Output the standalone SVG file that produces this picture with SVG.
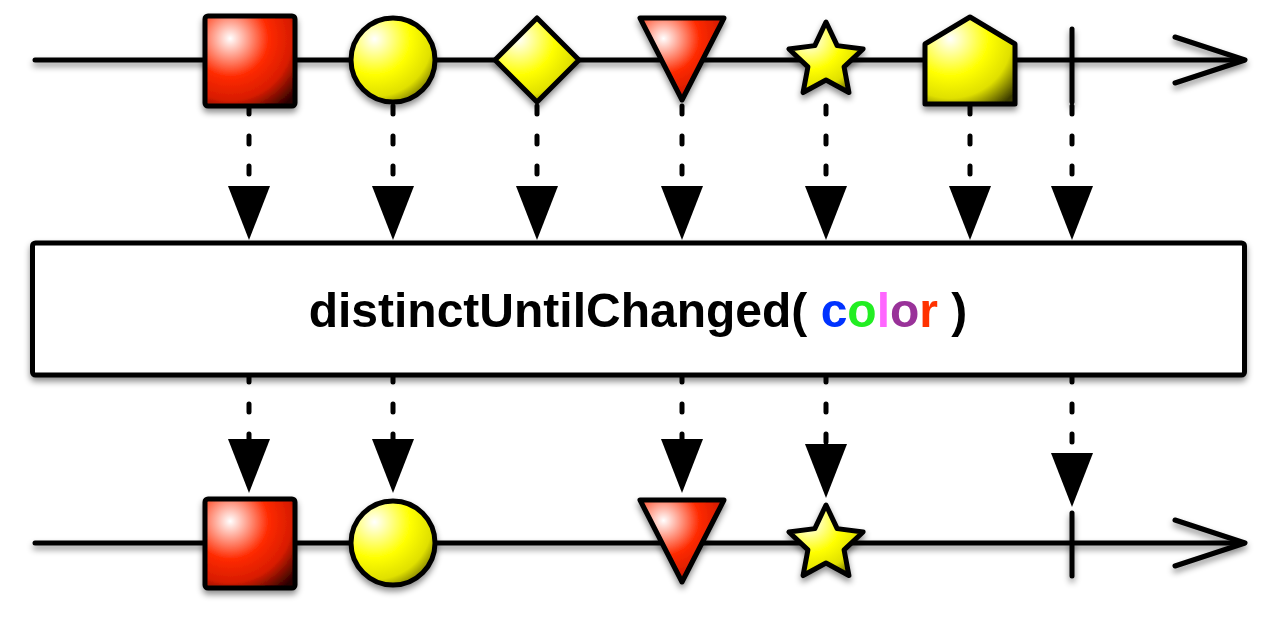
<svg xmlns="http://www.w3.org/2000/svg" xmlns:xlink="http://www.w3.org/1999/xlink" width="1280" height="620" viewBox="0 0 1280 620">
  <defs>
    <filter id="sh" filterUnits="userSpaceOnUse" x="0" y="0" width="1280" height="620">
      <feDropShadow dx="0" dy="4" stdDeviation="3" flood-color="#000" flood-opacity="0.45"/>
    </filter>
    <radialGradient id="gRed" cx="0.28" cy="0.25" r="0.95" fx="0.28" fy="0.25">
      <stop offset="0" stop-color="#ffffff"/>
      <stop offset="0.45" stop-color="#ff2a00"/>
      <stop offset="0.72" stop-color="#d81c00"/>
      <stop offset="1" stop-color="#2a0000"/>
    </radialGradient>
    <radialGradient id="gYel" cx="0.28" cy="0.25" r="0.95" fx="0.28" fy="0.25">
      <stop offset="0" stop-color="#ffffff"/>
      <stop offset="0.45" stop-color="#ffff00"/>
      <stop offset="0.72" stop-color="#e0e000"/>
      <stop offset="1" stop-color="#3a3a00"/>
    </radialGradient>
    <path id="star" d="M0,-39 L11.17,-15.37 L37.09,-12.05 L18.07,5.87 L22.92,31.55 L0,19 L-22.92,31.55 L-18.07,5.87 L-37.09,-12.05 L-11.17,-15.37 Z"/>
    <path id="ah" d="M-21,0 L21,0 L0,54 Z"/>
  </defs>
  <style>
    .tl { stroke:#000; stroke-width:5; fill:none; stroke-linecap:round; stroke-linejoin:round; }
    .shape { stroke:#000; stroke-width:5; stroke-linejoin:round; }
    .red { fill:url(#gRed); }
    .yel { fill:url(#gYel); }
    .dash { stroke:#000; stroke-width:5; stroke-linecap:round; stroke-dasharray:8 22; fill:none; }
    .head { fill:#000; }
    .op { fill:#fff; stroke:#000; stroke-width:5; }
    .lbl { font-family:"Liberation Sans", Arial, Helvetica, sans-serif; font-weight:bold; font-size:48px; fill:#000; }
  </style>
  <rect width="1280" height="620" fill="#fff"/>

  <g id="timeline-top" filter="url(#sh)">
    <line class="tl" x1="35" y1="60" x2="1243" y2="60"/>
    <polyline class="tl" points="1175,37 1245,60 1175,83"/>
  </g>
  <g id="timeline-bottom" filter="url(#sh)">
    <line class="tl" x1="35" y1="543" x2="1243" y2="543"/>
    <polyline class="tl" points="1175,520 1245,543 1175,566"/>
  </g>

  <g id="connectors">
    <line class="dash" x1="249" y1="106" x2="249" y2="186"/>
    <line class="dash" x1="393" y1="106" x2="393" y2="186"/>
    <line class="dash" x1="537" y1="106" x2="537" y2="186"/>
    <line class="dash" x1="682" y1="106" x2="682" y2="186"/>
    <line class="dash" x1="826" y1="106" x2="826" y2="186"/>
    <line class="dash" x1="970" y1="106" x2="970" y2="186"/>
    <line class="dash" x1="1072" y1="106" x2="1072" y2="186"/>
    <use xlink:href="#ah" class="head" transform="translate(249,186)"/>
    <use xlink:href="#ah" class="head" transform="translate(393,186)"/>
    <use xlink:href="#ah" class="head" transform="translate(537,186)"/>
    <use xlink:href="#ah" class="head" transform="translate(682,186)"/>
    <use xlink:href="#ah" class="head" transform="translate(826,186)"/>
    <use xlink:href="#ah" class="head" transform="translate(970,186)"/>
    <use xlink:href="#ah" class="head" transform="translate(1072,186)"/>

    <line class="dash" x1="249" y1="374" x2="249" y2="440"/>
    <line class="dash" x1="393" y1="374" x2="393" y2="440"/>
    <line class="dash" x1="682" y1="374" x2="682" y2="440"/>
    <line class="dash" x1="826" y1="374" x2="826" y2="446"/>
    <line class="dash" x1="1072" y1="374" x2="1072" y2="454"/>
    <use xlink:href="#ah" class="head" transform="translate(249,439)"/>
    <use xlink:href="#ah" class="head" transform="translate(393,439)"/>
    <use xlink:href="#ah" class="head" transform="translate(682,439)"/>
    <use xlink:href="#ah" class="head" transform="translate(826,444)"/>
    <use xlink:href="#ah" class="head" transform="translate(1072,453)"/>
  </g>

  <g id="in-square" filter="url(#sh)">
    <rect class="shape red" x="205" y="16" width="90" height="90" rx="3"/>
  </g>
  <g id="in-circle" filter="url(#sh)">
    <circle class="shape yel" cx="393" cy="60" r="42"/>
  </g>
  <g id="in-diamond" filter="url(#sh)">
    <polygon class="shape yel" points="537,18 579,60 537,102 495,60"/>
  </g>
  <g id="in-triangle" filter="url(#sh)">
    <polygon class="shape red" points="640,18 724,18 682,100"/>
  </g>
  <g id="in-star" filter="url(#sh)">
    <use xlink:href="#star" class="shape yel" transform="translate(826,61)"/>
  </g>
  <g id="in-pentagon" filter="url(#sh)">
    <polygon class="shape yel" points="970,17 1015,44 1015,104 925,104 925,44"/>
  </g>
  <g id="in-complete" filter="url(#sh)">
    <line class="tl" x1="1072" y1="29" x2="1072" y2="102"/>
  </g>

  <g id="operator" filter="url(#sh)">
    <rect class="op" x="32.5" y="243" width="1212" height="132" rx="3"/>
    <text class="lbl" x="638" y="327" text-anchor="middle">distinctUntilChanged( <tspan fill="#0033ff">c</tspan><tspan fill="#22ee22">o</tspan><tspan fill="#ff66ff">l</tspan><tspan fill="#993399">o</tspan><tspan fill="#ff3300">r</tspan> )</text>
  </g>

  <g id="out-square" filter="url(#sh)">
    <rect class="shape red" x="205" y="499" width="90" height="89" rx="3"/>
  </g>
  <g id="out-circle" filter="url(#sh)">
    <circle class="shape yel" cx="393" cy="543" r="42"/>
  </g>
  <g id="out-triangle" filter="url(#sh)">
    <polygon class="shape red" points="640,500 724,500 682,582"/>
  </g>
  <g id="out-star" filter="url(#sh)">
    <use xlink:href="#star" class="shape yel" transform="translate(826,544)"/>
  </g>
  <g id="out-complete" filter="url(#sh)">
    <line class="tl" x1="1072" y1="513" x2="1072" y2="576"/>
  </g>
</svg>
